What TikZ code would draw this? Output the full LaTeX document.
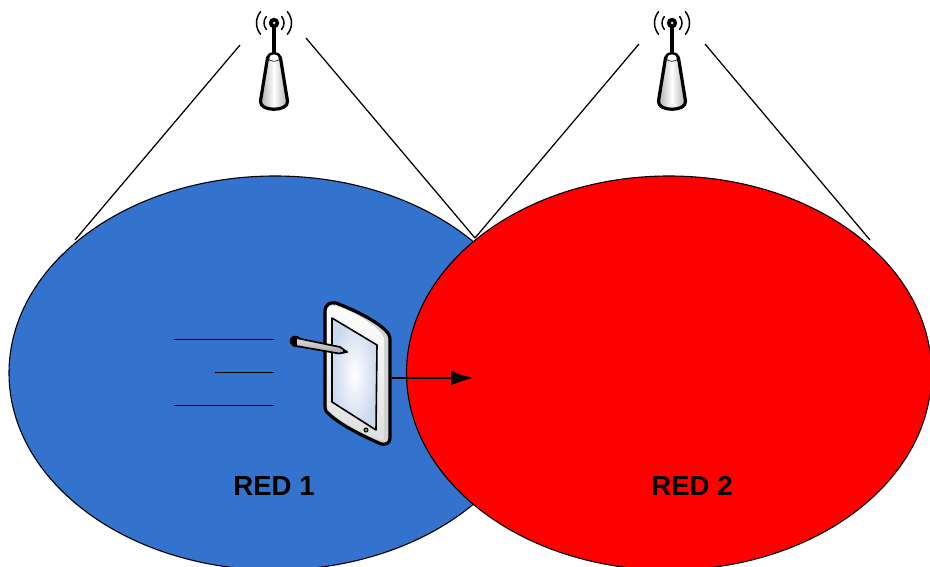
\documentclass[tikz,border=0pt]{standalone}
\usepackage{fontspec}
\setmainfont{Liberation Sans}
\usetikzlibrary{shapes.geometric,arrows.meta}
\definecolor{cellblue}{HTML}{3473CD}
\definecolor{screenedge}{HTML}{CBD8EE}
\tikzset{
  cell/.style={ellipse,draw=black,line width=1.1pt,inner sep=0pt},
  cover/.style={draw=black,line width=1.25pt},
  celllabel/.style={font=\bfseries\fontsize{27.6}{30}\selectfont,text=black},
  speedline/.style={draw=black,line width=1pt},
  heavy/.style={draw=black,line width=3.2pt,line join=round},
  wave/.style={draw=black,line width=1.5pt,line cap=round},
  pics/antenna/.style={code={
    % mast and head
    \draw[draw=black,line width=3.4pt] (0,23) -- (0,55);
    \filldraw[draw=black,fill=black] (0,23) circle (5);
    \fill[white!70!gray] (0,23) circle (1.5);
    % waves
    \foreach \r in {10,17.5}{
      \draw[wave] (0,23) ++(-40:\r) arc (-40:40:\r);
      \draw[wave] (0,23) ++(140:\r) arc (140:220:\r);
    }
    % body
    \path[left color=gray!70,right color=gray!70,middle color=white,heavy]
      (-6.5,58) .. controls (-5,52) and (5,52) .. (6.5,58)
      -- (13.5,101) .. controls (15,112) and (-15,112) .. (-13.5,101) -- cycle;
    \fill[white] (0,57.5) ellipse (4.5 and 3);
    \draw[line width=0.6pt] (-6,59) .. controls (-3,62) and (3,62) .. (6,59);
  }}
}
\begin{document}
\begin{tikzpicture}[x=1pt,y=-1pt]
\useasboundingbox (0,0) rectangle (930,567);
\clip (0,0) rectangle (930,567);
\fill[white] (0,0) rectangle (930,567);

\node[cell,fill=cellblue,minimum width=532pt,minimum height=394pt] (cellA) at (275,373) {};

% speed lines
\coordinate (sa1) at (174,339); \coordinate (sa2) at (274,339);
\coordinate (sb1) at (215,372); \coordinate (sb2) at (274,372);
\coordinate (sc1) at (174,405); \coordinate (sc2) at (274,405);
\draw[speedline] (sa1) -- (sa2);
\draw[speedline] (sb1) -- (sb2);
\draw[speedline] (sc1) -- (sc2);

% tablet
\draw[heavy,fill=gray!35]
  (325,312) .. controls (325,304) and (330,302) .. (336,303)
  .. controls (355,310) and (378,322) .. (386,331)
  .. controls (389,334) and (390,336) .. (390,340)
  -- (390,438) .. controls (390,443) and (386,445) .. (381,444)
  .. controls (365,437) and (340,425) .. (329,414)
  .. controls (326,412) and (325,410) .. (325,406) -- cycle;
\path[top color=white,bottom color=gray!25]
  (327,312) .. controls (327,306) and (331,305) .. (336,306)
  .. controls (355,313) and (373,323) .. (381,333)
  -- (384,338) -- (384,438) .. controls (384,440) and (383,441) .. (380,440)
  .. controls (365,434) and (340,422) .. (331,412)
  .. controls (328,410) and (327,408) .. (327,405) -- cycle;
\path[inner color=white,outer color=screenedge,draw=black,line width=1.6pt,line join=round]
  (332,318) -- (377,345) -- (376,430) -- (332,402) -- cycle;
\filldraw[draw=black,fill=green!35!gray,line width=1pt] (366,430) circle (2);

% stylus
\draw[black,line width=11pt,line cap=round] (295,341) -- (297,342);
\path[top color=gray!25,bottom color=gray!70,draw=black,line width=1.7pt,line join=round]
  (296,338) -- (340,347) -- (347,352) -- (339,353.5) -- (296,346) -- cycle;
\fill[black] (348,352) -- (343,349.5) -- (343,353) -- cycle;

% coverage lines
\coordinate (apAl) at (240,45);
\coordinate (apAr) at (306,38);
\coordinate (apBl) at (639,44);
\coordinate (apBr) at (705,44);
\coordinate (edgeAl) at (75,240);
\coordinate (meet) at (475,238);
\coordinate (edgeBr) at (870,240);
\draw[cover] (apAl) -- (edgeAl);
\draw[cover] (apAr) -- (meet);
\draw[cover] (apBl) -- (meet);
\draw[cover] (apBr) -- (edgeBr);

\node[cell,fill=red,minimum width=525pt,minimum height=394pt] (cellB) at (669,373) {};

% handover arrow
\coordinate (from) at (392,378);
\coordinate (to) at (473,378);
\draw[draw=black,line width=1.1pt,-{Latex[length=22pt,width=15pt]}] (from) -- (to);

\pic at (274,0) {antenna};
\pic at (672,0) {antenna};

\node[celllabel] (labelA) at (274,486) {RED 1};
\node[celllabel] (labelB) at (692,486) {RED 2};
\end{tikzpicture}
\end{document}
